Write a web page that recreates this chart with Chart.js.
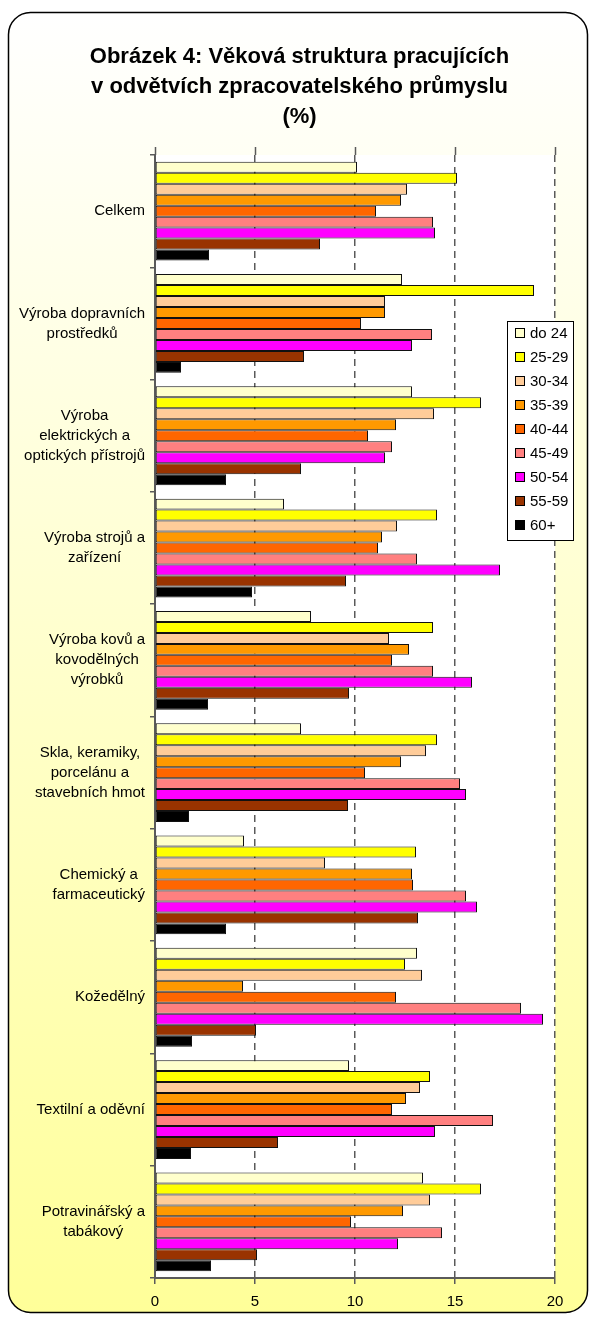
<!DOCTYPE html>
<html lang="cs">
<head>
<meta charset="utf-8">
<title>Věková struktura pracujících</title>
<script src="https://cdn.jsdelivr.net/npm/chart.js@4.4.1/dist/chart.umd.min.js"></script>
<style>
    html, body { margin: 0; padding: 0; background: #fff; }
    #chart { display: block; }
</style>
</head>
<body>
<canvas id="chart" width="591" height="1317"></canvas>
<script>
// ════════════════════════════════════════
// DATA
// ════════════════════════════════════════

const categories = [
    ['Celkem'],
    ['Výroba dopravních', 'prostředků'],
    ['Výroba', 'elektrických a', 'optických přístrojů'],
    ['Výroba strojů a', 'zařízení'],
    ['Výroba kovů a', 'kovodělných', 'výrobků'],
    ['Skla, keramiky,', 'porcelánu a', 'stavebních hmot'],
    ['Chemický a', 'farmaceutický'],
    ['Kožedělný'],
    ['Textilní a oděvní'],
    ['Potravinářský a', 'tabákový'],
];

const ageGroups = ['do 24', '25-29', '30-34', '35-39', '40-44', '45-49', '50-54', '55-59', '60+'];

const age24 = [10.1, 12.35, 12.85, 6.45, 7.8, 7.3, 4.45, 13.1, 9.7, 13.4];
const age25 = [15.1, 18.95, 16.3, 14.1, 13.9, 14.1, 13.05, 12.5, 13.75, 16.3];
const age30 = [12.6, 11.5, 13.95, 12.1, 11.7, 13.55, 8.5, 13.35, 13.25, 13.75];
const age35 = [12.3, 11.5, 12.05, 11.35, 12.7, 12.3, 12.85, 4.4, 12.55, 12.4];
const age40 = [11.05, 10.3, 10.65, 11.15, 11.85, 10.5, 12.9, 12.05, 11.85, 9.8];
const age45 = [13.9, 13.85, 11.85, 13.1, 13.9, 15.25, 15.55, 18.3, 16.9, 14.35];
const age50 = [14.0, 12.85, 11.5, 17.25, 15.85, 15.55, 16.1, 19.4, 14.0, 12.15];
const age55 = [8.25, 7.45, 7.3, 9.55, 9.7, 9.65, 13.15, 5.05, 6.15, 5.1];
const age60 = [2.7, 1.3, 3.55, 4.85, 2.65, 1.7, 3.55, 1.85, 1.8, 2.8];

const seriesValues = [age24, age25, age30, age35, age40, age45, age50, age55, age60];

const xTicks = [0, 5, 10, 15, 20];

const AGE_COLORS = ['#FFFFCC', '#FFFF00', '#FFCC99', '#FF9900', '#FF6600', '#FF8080', '#FF00FF', '#993300', '#000000'];

const FONT = "Arial, 'Liberation Sans', sans-serif";
const AXIS_GREY = '#5a5a5a';

// ════════════════════════════════════════
// PLUGINS: frame + background, category labels, legend box
// ════════════════════════════════════════

const framePlugin = {
    id: 'frame',
    beforeDraw(chart) {
        const { ctx, chartArea: a } = chart;
        ctx.save();
        ctx.fillStyle = '#fff';
        ctx.fillRect(0, 0, chart.width, chart.height);

        const x = 8.5, y = 12.5, w = 579, h = 1300, r = 22;
        ctx.beginPath();
        ctx.roundRect(x, y, w, h, r);
        const grad = ctx.createLinearGradient(0, y, 0, y + h);
        grad.addColorStop(0, '#FFFFFF');
        grad.addColorStop(1, '#FFFF99');
        ctx.fillStyle = grad;
        ctx.fill();
        ctx.lineWidth = 1.5;
        ctx.strokeStyle = '#000';
        ctx.stroke();

        ctx.fillStyle = '#fff';
        ctx.fillRect(a.left, a.top, a.right - a.left, a.bottom - a.top);
        ctx.restore();
    },
};

// Excel-style labels: block right aligned, lines centred within the block
const categoryLabelPlugin = {
    id: 'categoryLabels',
    afterDraw(chart) {
        const { ctx } = chart;
        const yScale = chart.scales.y;
        const right = chart.chartArea.left - 10;
        const lineH = 20;
        ctx.save();
        ctx.font = `15px ${FONT}`;
        ctx.fillStyle = '#000';
        ctx.textAlign = 'center';
        ctx.textBaseline = 'middle';
        categories.forEach((lines, i) => {
            const yc = yScale.getPixelForValue(i);
            const maxW = Math.max(...lines.map(l => ctx.measureText(l).width));
            const cx = right - maxW / 2;
            const y0 = yc - (lines.length - 1) * lineH / 2;
            lines.forEach((l, k) => ctx.fillText(l, cx, y0 + k * lineH));
        });
        ctx.restore();
    },
};

const legendBoxPlugin = {
    id: 'legendBox',
    afterDraw(chart) {
        const { ctx } = chart;
        const bx = 507.5, by = 321.5, bw = 66, bh = 219;
        ctx.save();
        ctx.fillStyle = '#fff';
        ctx.fillRect(bx, by, bw, bh);
        ctx.lineWidth = 1;
        ctx.strokeStyle = '#000';
        ctx.strokeRect(bx, by, bw, bh);

        ctx.font = `15px ${FONT}`;
        ctx.textAlign = 'left';
        ctx.textBaseline = 'middle';
        chart.data.datasets.forEach((ds, i) => {
            const yc = 333 + i * 24;
            ctx.fillStyle = ds.backgroundColor;
            ctx.fillRect(515.5, yc - 4.5, 9, 9);
            ctx.strokeStyle = '#000';
            ctx.strokeRect(515.5, yc - 4.5, 9, 9);
            ctx.fillStyle = '#000';
            ctx.fillText(ds.label, 530, yc + 1);
        });
        ctx.restore();
    },
};

// ════════════════════════════════════════
// CHART
// ════════════════════════════════════════

const datasets = seriesValues.map((values, i) => ({
    label: ageGroups[i],
    data: values,
    backgroundColor: AGE_COLORS[i],
    borderColor: '#111',
    borderWidth: 1,
    borderSkipped: false,
    barPercentage: 1.0,
    categoryPercentage: 0.88,
}));

new Chart(document.getElementById('chart'), {
    type: 'bar',
    data: { labels: categories, datasets },
    plugins: [framePlugin, categoryLabelPlugin, legendBoxPlugin],
    options: {
        indexAxis: 'y',
        responsive: false,
        animation: false,
        devicePixelRatio: 1,
        layout: { padding: { left: 8, right: 0, top: 0, bottom: 0 } },
        plugins: {
            legend: { display: false },
            tooltip: { enabled: false },
            title: {
                display: true,
                text: ['Obrázek 4: Věková struktura pracujících', 'v odvětvích zpracovatelského průmyslu', '(%)'],
                color: '#000',
                font: { family: FONT, size: 22, weight: 'bold', lineHeight: 30 / 22 },
                padding: { top: 42, bottom: 15 },
            },
        },
        scales: {
            x: {
                type: 'linear',
                position: 'bottom',
                min: 0,
                max: 20,
                afterBuildTicks: s => { s.ticks = xTicks.map(v => ({ value: v })); },
                afterFit: s => { s.height = 39; },
                ticks: {
                    font: { family: FONT, size: 15 },
                    color: '#000',
                    padding: 9,
                    maxRotation: 0,
                },
                grid: {
                    color: AXIS_GREY,
                    lineWidth: 1.5,
                    tickLength: 6,
                    tickColor: AXIS_GREY,
                    tickWidth: 1.5,
                    tickBorderDash: [],
                },
                border: { display: true, color: AXIS_GREY, width: 2, dash: [7, 5] },
            },
            x2: {
                type: 'linear',
                position: 'top',
                min: 0,
                max: 20,
                afterBuildTicks: s => { s.ticks = xTicks.map(v => ({ value: v })); },
                afterFit: s => { s.height = 8; },
                ticks: { display: false },
                grid: {
                    drawOnChartArea: false,
                    tickLength: 8,
                    tickColor: AXIS_GREY,
                    tickWidth: 1.5,
                    color: AXIS_GREY,
                },
                border: { display: false },
            },
            y: {
                position: 'left',
                afterFit: s => { s.width = 147; },
                ticks: { color: 'transparent', font: { family: FONT, size: 15 } },
                grid: {
                    drawOnChartArea: false,
                    offset: true,
                    tickLength: 5,
                    color: AXIS_GREY,
                    lineWidth: 1.5,
                },
                border: { display: true, color: AXIS_GREY, width: 2 },
            },
            y2: {
                type: 'linear',
                position: 'right',
                afterFit: s => { s.width = 36; },
                ticks: { display: false },
                grid: { display: false },
                border: { display: false },
            },
        },
    },
});
</script>
</body>
</html>
